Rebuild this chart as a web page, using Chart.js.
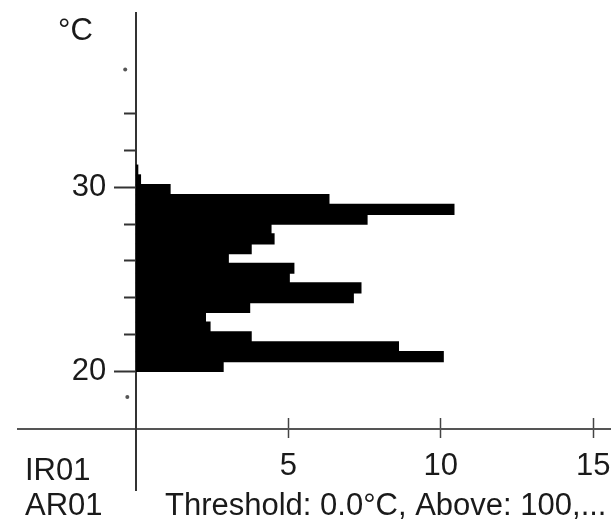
<!DOCTYPE html>
<html><head><meta charset="utf-8">
<script src="https://cdn.jsdelivr.net/npm/chart.js@4/dist/chart.umd.min.js"></script>
<style>html,body{margin:0;padding:0;background:#fff;}canvas{display:block;}</style>
</head><body>
<canvas id="c" width="614" height="522"></canvas>
<script>
// ---- data ----
const TEMP_BINS = [20.27, 20.80, 21.33, 21.87, 22.40, 22.93, 23.47, 24.00, 24.53, 25.07, 25.60, 26.13, 26.67, 27.20, 27.73, 28.27, 28.80, 29.33, 29.87, 30.40, 30.93];
const BIN_VALUES = [2.88, 10.10, 8.63, 3.80, 2.45, 2.30, 3.75, 7.15, 7.40, 5.05, 5.20, 3.05, 3.80, 4.55, 4.45, 7.60, 10.45, 6.35, 1.14, 0.17, 0.08];
const EXTREME_TEMPS = [36.4, 18.6];
const EXTREME_OFFSETS = [-0.35, -0.28];
const X_TICKS = [5, 10, 15];
const Y_MAJOR_TICKS = [20, 30];
const Y_MINOR_TICKS = [22, 24, 26, 28, 32, 34];
const UNIT_LABEL = '°C';
const ROW_LABELS = ['IR01', 'AR01'];
const NOTE = 'Threshold: 0.0°C, Above: 100,...';

const FONT_FAMILY = '"Liberation Sans", Arial, Helvetica, sans-serif';
const FONT_SIZE = 31;
const X_RANGE = [-3.866, 15.55];
const Y_RANGE = [13.55, 39.47];
const X_AXIS_AT = 16.86;
const Y_LABEL_AT = -0.97;

const noPad = s => { s.paddingLeft = 0; s.paddingRight = 0; s.paddingTop = 0; s.paddingBottom = 0; };
const setTicks = arr => s => { s.ticks = arr.map(v => ({ value: v })); };

const textPlugin = {
  id: 'extraText',
  afterDraw(chart) {
    const ctx = chart.ctx;
    ctx.save();
    ctx.fillStyle = '#1a1a1a';
    ctx.font = FONT_SIZE + 'px ' + FONT_FAMILY;
    ctx.textBaseline = 'alphabetic';
    ctx.textAlign = 'left';
    ctx.fillText(UNIT_LABEL, 58, 40);
    ctx.fillText(ROW_LABELS[0], 25, 480);
    ctx.fillText(ROW_LABELS[1], 25, 515);
    ctx.fillText(NOTE, 165, 515);
    ctx.restore();
  }
};

const yBase = {
  type: 'linear', min: Y_RANGE[0], max: Y_RANGE[1], offset: false,
  afterFit: noPad
};
const xBase = {
  type: 'linear', min: X_RANGE[0], max: X_RANGE[1], offset: false,
  afterFit: noPad
};

new Chart(document.getElementById('c'), {
  type: 'bar',
  data: {
    datasets: [
      {
        type: 'bar',
        data: TEMP_BINS.map((t, i) => ({ y: t, x: BIN_VALUES[i] })),
        backgroundColor: '#000',
        borderWidth: 0,
        barPercentage: 1.15,
        categoryPercentage: 1,
        xAxisID: 'x',
        yAxisID: 'y'
      },
      {
        type: 'scatter',
        data: EXTREME_TEMPS.map((t, i) => ({ y: t, x: EXTREME_OFFSETS[i] })),
        pointRadius: 2,
        pointBackgroundColor: '#555',
        pointBorderWidth: 0,
        xAxisID: 'x',
        yAxisID: 'y'
      }
    ]
  },
  options: {
    indexAxis: 'y',
    responsive: false,
    animation: false,
    events: [],
    layout: { padding: { left: 18, right: 0, top: 13, bottom: 32 } },
    plugins: { legend: { display: false }, tooltip: { enabled: false } },
    scales: {
      x: Object.assign({}, xBase, {
        position: { y: X_AXIS_AT },
        afterBuildTicks: setTicks(X_TICKS),
        ticks: { autoSkip: false, maxRotation: 0, padding: 11, color: '#1a1a1a', font: { family: FONT_FAMILY, size: FONT_SIZE } },
        grid: { offset: false, drawOnChartArea: false, drawTicks: true, tickLength: 8, tickColor: '#444', tickWidth: 1.5 },
        border: { display: true, color: '#555', width: 2 }
      }),
      xUp: Object.assign({}, xBase, {
        position: { y: X_AXIS_AT },
        afterBuildTicks: setTicks(X_TICKS),
        ticks: { display: false },
        grid: { offset: false, drawOnChartArea: false, drawTicks: true, tickLength: -11, tickColor: '#444', tickWidth: 1.5 },
        border: { display: false }
      }),
      y: Object.assign({}, yBase, {
        position: { x: 0 },
        afterBuildTicks: setTicks(Y_MAJOR_TICKS),
        ticks: { display: false },
        grid: { offset: false, drawOnChartArea: false, drawTicks: true, tickLength: 21, tickColor: '#333', tickWidth: 2 },
        border: { display: true, color: '#333', width: 2 }
      }),
      yMinor: Object.assign({}, yBase, {
        position: { x: 0 },
        afterBuildTicks: setTicks(Y_MINOR_TICKS),
        ticks: { display: false },
        grid: { offset: false, drawOnChartArea: false, drawTicks: true, tickLength: 12, tickColor: '#333', tickWidth: 2 },
        border: { display: false }
      }),
      yLabels: Object.assign({}, yBase, {
        position: { x: Y_LABEL_AT },
        afterBuildTicks: setTicks(Y_MAJOR_TICKS),
        ticks: { autoSkip: false, padding: 0, color: '#1a1a1a', font: { family: FONT_FAMILY, size: FONT_SIZE } },
        grid: { offset: false, drawOnChartArea: false, drawTicks: false },
        border: { display: false }
      })
    }
  },
  plugins: [textPlugin]
});
</script>
</body></html>
